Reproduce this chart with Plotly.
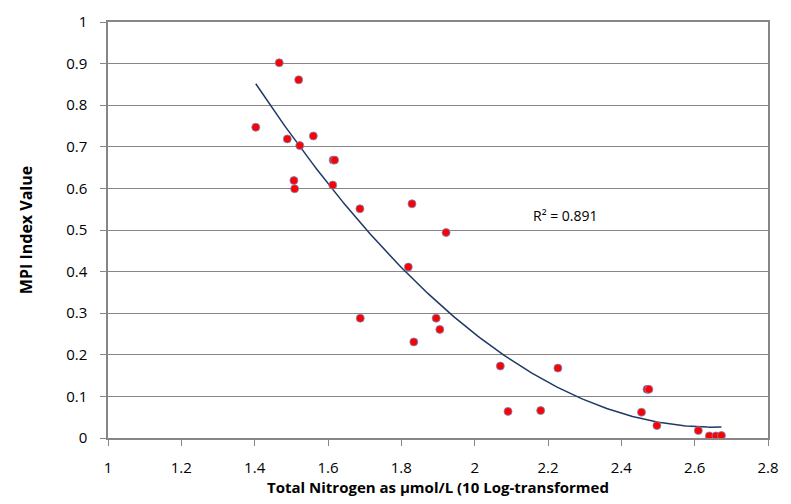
import numpy as np
import plotly.graph_objects as go

# Total nitrogen (log10 µmol/L) and MPI index value per site
nitrogen = [1.403, 1.467, 1.520, 1.489, 1.523, 1.560, 1.614, 1.618, 1.507, 1.509,
            1.613, 1.687, 1.829, 1.922, 1.688, 1.819, 1.895, 1.905, 1.834, 2.070,
            2.227, 2.091, 2.180, 2.470, 2.475, 2.455, 2.497, 2.610, 2.640, 2.658, 2.673]
mpi = [0.747, 0.902, 0.861, 0.719, 0.703, 0.726, 0.668, 0.668, 0.619, 0.599,
       0.608, 0.551, 0.563, 0.494, 0.288, 0.411, 0.288, 0.261, 0.231, 0.173,
       0.168, 0.064, 0.066, 0.117, 0.117, 0.062, 0.030, 0.018, 0.005, 0.005, 0.006]

x_ticks = [1, 1.2, 1.4, 1.6, 1.8, 2, 2.2, 2.4, 2.6, 2.8]
y_ticks = [0, 0.1, 0.2, 0.3, 0.4, 0.5, 0.6, 0.7, 0.8, 0.9, 1]
r2_label = "R² = 0.891"

# second-order polynomial trend line
coef = np.polyfit(nitrogen, mpi, 2)
xs = np.linspace(min(nitrogen), max(nitrogen), 200)
ys = np.polyval(coef, xs)

fig = go.Figure()
fig.add_trace(go.Scatter(
    x=xs, y=ys, mode="lines",
    line=dict(color="#1f3864", width=1.5),
    hoverinfo="skip", showlegend=False))
fig.add_trace(go.Scatter(
    x=nitrogen, y=mpi, mode="markers",
    marker=dict(color="#ff0000", size=8, line=dict(color="#6f8fc8", width=0.8)),
    showlegend=False))

fig.add_annotation(x=2.245, y=0.534, text=r2_label, showarrow=False,
                   font=dict(family="Open Sans", size=14, color="#000000"))

tick_font = dict(family="Open Sans", size=15, color="#000000")

fig.update_layout(
    width=791, height=504,
    margin=dict(l=108, r=23, t=11, b=66),
    paper_bgcolor="white", plot_bgcolor="white",
    xaxis=dict(
        range=[1, 2.8], tickvals=x_ticks, ticktext=[f"{v:g}" for v in x_ticks],
        showgrid=False, zeroline=False,
        showline=True, linecolor="#868686", linewidth=1.5, mirror=True,
        ticks="outside", ticklen=6, tickcolor="#868686",
        tickfont=tick_font, ticklabelstandoff=9,
        title=dict(text="<b>Total Nitrogen as µmol/L (10 Log-transformed</b>",
                   font=dict(family="Open Sans", size=15, color="#000000"),
                   standoff=5),
    ),
    yaxis=dict(
        range=[0, 1], tickvals=y_ticks, ticktext=[f"{v:g}" for v in y_ticks],
        showgrid=True, gridcolor="#868686", gridwidth=1, zeroline=False,
        showline=True, linecolor="#868686", linewidth=1.5, mirror=True,
        ticks="outside", ticklen=6, tickcolor="#868686",
        tickfont=tick_font, ticklabelstandoff=10,
        title=dict(text="<b>MPI Index Value</b>",
                   font=dict(family="Open Sans", size=16, color="#000000"),
                   standoff=30),
    ),
)

fig.write_html("out.html")
